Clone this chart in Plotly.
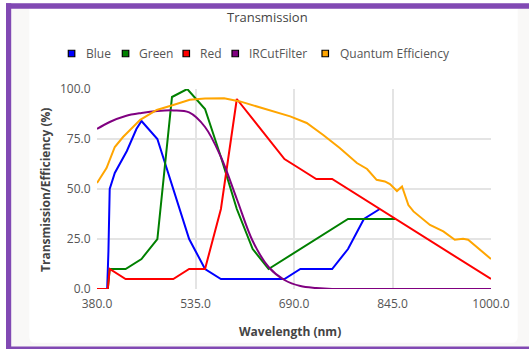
import plotly.graph_objects as go

# ---------------- data ----------------
series_names = ["Blue", "Green", "Red", "IRCutFilter", "Quantum Efficiency"]
series_colors = ["#0000FF", "#008000", "#FF0000", "#800080", "#FFA500"]

blue_wl = [380, 396, 398, 400, 408, 427, 442, 450, 475, 500, 525, 550, 575, 675, 700, 750, 775, 800, 825]
blue_val = [0, 0, 19, 50, 58, 69, 80, 84, 75, 50, 25, 10, 5, 5, 10, 10, 20, 35, 40]

green_wl = [380, 397, 400, 425, 450, 475, 498, 522, 550, 575, 600, 625, 650, 775, 850]
green_val = [0, 0, 10, 10, 15, 25, 96, 100, 90, 66, 40, 20, 10, 35, 35]

red_wl = [380, 397, 400, 425, 500, 525, 550, 575, 600, 675, 700, 725, 750, 1000]
red_val = [0, 0, 10, 5, 5, 10, 10, 40, 95, 65, 60, 55, 55, 5]

ir_wl = [380, 400, 425, 450, 475, 500, 525, 550, 575, 600, 625, 650, 675, 700, 725, 750, 800, 1000]
ir_val = [80, 83.5, 86.5, 88, 89, 89.3, 88.3, 81, 66, 45, 24, 11, 4.5, 1.5, 0.5, 0, 0, 0]

qe_wl = [380, 395, 408, 421, 448, 474, 500, 526, 550, 580, 605, 631, 657, 684, 710, 736, 762, 789,
         805, 820, 833, 841, 852, 860, 870, 878, 904, 925, 943, 956, 964, 1000]
qe_val = [53, 60.5, 71, 76, 84.6, 89.5, 92, 94.6, 95.3, 95.4, 93.8, 91.3, 88.8, 86.3, 83, 77, 70.5, 63,
          60, 54.6, 53.8, 52.5, 49, 51.3, 42, 38.8, 32, 28.8, 24.6, 25.1, 24.6, 15]

x_ticks = [380, 535, 690, 845, 1000]
y_ticks = [0, 25, 50, 75, 100]

title_text = "Transmission"
x_title = "Wavelength (nm)"
y_title = "Transmission/Efficiency (%)"

# ---------------- layout geometry (pixels) ----------------
W, H = 529, 349
ML, MR, MT, MB = 97, 38, 89, 60
PW, PH = W - ML - MR, H - MT - MB


def px(x):
    return (x - ML) / PW


def py(y):
    return (H - MB - y) / PH


FONT = "Open Sans"
fig = go.Figure()

xs = [blue_wl, green_wl, red_wl, ir_wl, qe_wl]
ys = [blue_val, green_val, red_val, ir_val, qe_val]
for i, name in enumerate(series_names):
    shape = "spline" if name == "IRCutFilter" else "linear"
    fig.add_trace(go.Scatter(x=xs[i], y=ys[i], mode="lines", name=name,
                             line=dict(color=series_colors[i], width=2, shape=shape),
                             showlegend=False, hoverinfo="x+y+name"))

shapes = []
# grey background inside purple frame
shapes.append(dict(type="rect", xref="paper", yref="paper", layer="below",
                   x0=px(6), x1=px(540), y0=py(349), y1=py(3.3),
                   fillcolor="#f9f8f7", line=dict(width=0)))
# white rounded panel
l, r, t, b, rad = 29.3, 517.7, 8.0, 342.7, 6
path = (f"M {px(l)},{py(t)} L {px(r)},{py(t)} L {px(r)},{py(b-rad)} "
        f"Q {px(r)},{py(b)} {px(r-rad)},{py(b)} L {px(l+rad)},{py(b)} "
        f"Q {px(l)},{py(b)} {px(l)},{py(b-rad)} Z")
shapes.append(dict(type="path", xref="paper", yref="paper", layer="below", path=path,
                   fillcolor="#ffffff", line=dict(width=0)))
# purple frame bars
PURPLE = "#8149b3"
for (x0, x1, y0, y1) in [(6, 540, 3.3, 8.8), (6, 11.2, 3.3, 360), (6, 540, 346.6, 360)]:
    shapes.append(dict(type="rect", xref="paper", yref="paper", layer="above",
                       x0=px(x0), x1=px(x1), y0=py(y1), y1=py(y0),
                       fillcolor=PURPLE, line=dict(width=0)))

annotations = []
# custom legend: square swatches with black border
leg_sq_x = [68.3, 122.3, 183, 232, 322]
leg_tx_x = [84, 137, 198, 247, 338]
leg_y = 53.5
sq = 6.5
for i, name in enumerate(series_names):
    shapes.append(dict(type="rect", xref="paper", yref="paper", layer="above",
                       x0=px(leg_sq_x[i]), x1=px(leg_sq_x[i] + sq),
                       y0=py(leg_y + sq / 2), y1=py(leg_y - sq / 2),
                       fillcolor=series_colors[i], line=dict(color="#000000", width=1.2)))
    annotations.append(dict(text=name, xref="paper", yref="paper", x=px(leg_tx_x[i]), y=py(leg_y),
                            xanchor="left", yanchor="middle", showarrow=False,
                            font=dict(family=FONT, size=12, color="#555555")))

# axis titles
annotations.append(dict(text=f"<b>{x_title}</b>", xref="paper", yref="paper",
                        x=px(290), y=py(331), xanchor="center", yanchor="middle", showarrow=False,
                        font=dict(family=FONT, size=12, color="#444444")))
annotations.append(dict(text=f"<b>{y_title}</b>", xref="paper", yref="paper", textangle=-90,
                        x=px(45), y=py(190), xanchor="center", yanchor="middle", showarrow=False,
                        font=dict(family=FONT, size=12, color="#444444")))
# chart title
annotations.append(dict(text=title_text, xref="paper", yref="paper",
                        x=px(267), y=py(17), xanchor="center", yanchor="middle", showarrow=False,
                        font=dict(family=FONT, size=13, color="#444444")))

fig.update_layout(
    width=W, height=H,
    margin=dict(l=ML, r=MR, t=MT, b=MB, pad=0),
    paper_bgcolor="#ffffff", plot_bgcolor="rgba(0,0,0,0)",
    showlegend=False,
    shapes=shapes, annotations=annotations,
    font=dict(family=FONT, size=12, color="#555555"),
)
fig.update_xaxes(range=[380, 1000], tickvals=x_ticks, tickformat=".1f",
                 showgrid=True, gridcolor="#e4e4e4", gridwidth=1.5,
                 zeroline=False, showline=False,
                 ticks="outside", ticklen=4, tickcolor="rgba(0,0,0,0)",
                 tickfont=dict(family=FONT, size=12, color="#555555"))
fig.update_yaxes(range=[0, 100], tickvals=y_ticks, tickformat=".1f",
                 showgrid=True, gridcolor="#e4e4e4", gridwidth=1.5,
                 zeroline=False, showline=False,
                 ticks="outside", ticklen=3, tickcolor="rgba(0,0,0,0)",
                 tickfont=dict(family=FONT, size=12, color="#555555"))

fig.write_html("out.html", config={"displayModeBar": False},
               post_script="document.body.style.margin='0px';document.body.style.overflow='hidden';")
